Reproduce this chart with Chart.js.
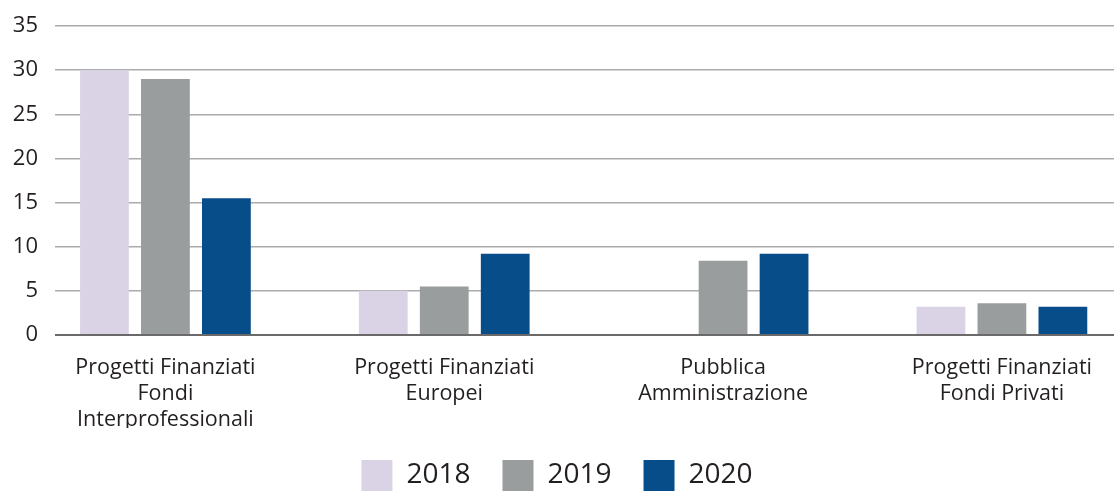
<!DOCTYPE html>
<html>
<head>
<meta charset="utf-8">
<script src="https://cdn.jsdelivr.net/npm/chart.js@4"></script>
<style>
  html, body { margin: 0; padding: 0; background: #fff; }
  #wrap { width: 1114px; height: 496px; }
</style>
</head>
<body>
<div id="wrap"><canvas id="myChart"></canvas></div>
<script>
const categories = [
  ["Progetti Finanziati", "Fondi", "Interprofessionali"],
  ["Progetti Finanziati", "Europei"],
  ["Pubblica", "Amministrazione"],
  ["Progetti Finanziati", "Fondi Privati"],
];
const years = ["2018", "2019", "2020"];
const values2018 = [30, 5, null, 3.2];
const values2019 = [29, 5.5, 8.4, 3.6];
const values2020 = [15.5, 9.2, 9.2, 3.2];
const yTicks = [0, 5, 10, 15, 20, 25, 30, 35];

const colori = ["#dad3e6", "#9a9d9e", "#074d8a"];
const testo = "#231f20";

function punti(valori) {
  return valori.map((v, i) => ({ x: i, y: v }));
}

document.addEventListener("DOMContentLoaded", function () {
  const ctx = document.getElementById("myChart").getContext("2d");
  new Chart(ctx, {
    type: "bar",
    data: {
      datasets: [
        { label: years[0], data: punti(values2018), backgroundColor: colori[0] },
        { label: years[1], data: punti(values2019), backgroundColor: colori[1] },
        { label: years[2], data: punti(values2020), backgroundColor: colori[2] },
      ],
    },
    options: {
      responsive: true,
      maintainAspectRatio: false,
      animation: false,
      categoryPercentage: 0.656,
      barPercentage: 0.8,
      layout: { padding: { top: 26, left: 0, right: 0, bottom: -5 } },
      scales: {
        x: {
          type: "linear",
          offset: false,
          min: -0.396,
          max: 3.402,
          grid: { display: false, offset: false },
          border: { display: false },
          afterBuildTicks: function (scale) {
            scale.ticks = categories.map((c, i) => ({ value: i }));
          },
          afterFit: function (scale) {
            scale.height = 93;
          },
          ticks: {
            autoSkip: false,
            maxRotation: 0,
            padding: 12,
            color: testo,
            font: { family: "Open Sans", size: 21.5, lineHeight: 1.21 },
            callback: function (v) {
              return categories[v] || "";
            },
          },
        },
        y: {
          min: 0,
          max: 35,
          afterBuildTicks: function (scale) {
            scale.ticks = yTicks.map((v) => ({ value: v }));
          },
          afterFit: function (scale) {
            // larghezza fissa e niente margine extra sopra/sotto
            scale.width = 55;
            scale.paddingTop = 0;
            scale.paddingBottom = 0;
          },
          border: { display: false },
          grid: {
            drawTicks: false,
            color: (c) => (c.tick && c.tick.value === 0 ? "#6a6a6a" : "#ababab"),
            lineWidth: (c) => (c.tick && c.tick.value === 0 ? 2 : 1.5),
          },
          ticks: {
            padding: 17,
            color: testo,
            font: { family: "Open Sans", size: 22 },
          },
        },
      },
      plugins: {
        legend: {
          position: "bottom",
          labels: {
            boxWidth: 31,
            boxHeight: 31,
            padding: 32,
            color: testo,
            font: { family: "Open Sans", size: 28 },
          },
        },
        tooltip: { enabled: false },
      },
    },
  });
});
</script>
</body>
</html>
